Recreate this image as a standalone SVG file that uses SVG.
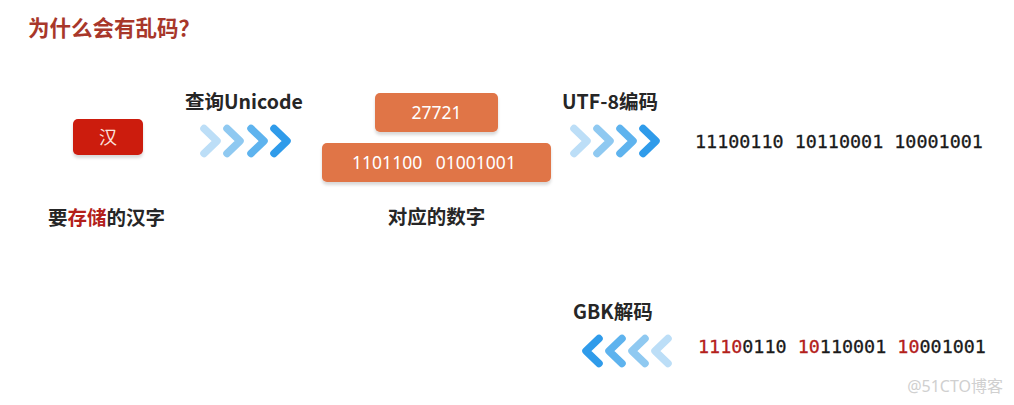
<svg xmlns="http://www.w3.org/2000/svg" width="1014" height="405" viewBox="0 0 1014 405">
<style>
.cjk{font-family:"Noto Sans CJK SC","Noto Sans",sans-serif;font-weight:700;fill:#262626}
.lbl{font-size:19.5px}
.title{font-size:21.5px;fill:#A8372A}
.mono{font-family:"DejaVu Sans Mono","Liberation Mono",monospace;font-size:18.4px;fill:#1a1a1a;stroke:#1a1a1a;stroke-width:0.3}
.red{fill:#B3201A;stroke:#B3201A}
.box{fill:#E07447}
.boxtxt{font-family:"Noto Sans","Liberation Sans",sans-serif;font-size:17.5px;fill:#fff}
.chev{fill:none;stroke-width:7.5;stroke-linecap:round;stroke-linejoin:round}
.c1{stroke:#BCDEF7}.c2{stroke:#8FC9F1}.c3{stroke:#5EB3EE}.c4{stroke:#2F9BEA}
</style>
<defs>
<path id="chr" d="M0,-12.5 L13,0 L0,12.5"/>
<path id="chl" d="M13,-12.5 L0,0 L13,12.5"/>
<filter id="sh" x="-10%" y="-10%" width="120%" height="140%"><feDropShadow dx="0" dy="3" stdDeviation="1.5" flood-color="#000" flood-opacity="0.15"/></filter>
</defs>
<rect width="1014" height="405" fill="#fff"/>
<text class="cjk title" x="28" y="36">为什么会有乱码？</text>

<g id="node-han">
<rect x="73" y="119" width="70" height="36" rx="5" fill="#CC1A0E" filter="url(#sh)"/>
<text x="108" y="143.5" text-anchor="middle" style="font-family:'Noto Sans CJK SC',sans-serif;font-size:18px;fill:#FBE3DF">汉</text>
<text class="cjk lbl" x="48" y="225">要<tspan class="red" style="stroke:none">存储</tspan>的汉字</text>
</g>

<g id="node-number">
<rect class="box" x="375" y="93" width="123" height="39" rx="5" filter="url(#sh)"/>
<text class="boxtxt" x="436.5" y="119" text-anchor="middle">27721</text>
<rect class="box" x="322" y="143" width="229" height="39" rx="5" filter="url(#sh)"/>
<text class="boxtxt" x="434" y="169" text-anchor="middle" xml:space="preserve">1101100   01001001</text>
<text class="cjk lbl" x="436.5" y="224" text-anchor="middle">对应的数字</text>
</g>

<g id="node-utf8">
<text class="mono" x="695" y="148">11100110 10110001 10001001</text>
</g>

<g id="node-gbk">
<text class="mono" x="698" y="353"><tspan class="red">1110</tspan>0110 <tspan class="red">10</tspan>110001 <tspan class="red">10</tspan>001001</text>
</g>

<g id="connectors">
<g id="conn-unicode">
<text class="cjk lbl" x="185" y="109">查询Unicode</text>
<use href="#chr" class="chev c1" x="204" y="141"/>
<use href="#chr" class="chev c2" x="227" y="141"/>
<use href="#chr" class="chev c3" x="251" y="141"/>
<use href="#chr" class="chev c4" x="274" y="141"/>
</g>
<g id="conn-utf8">
<text class="cjk lbl" x="562" y="109">UTF-8编码</text>
<use href="#chr" class="chev c1" x="574" y="141"/>
<use href="#chr" class="chev c2" x="597" y="141"/>
<use href="#chr" class="chev c3" x="620" y="141"/>
<use href="#chr" class="chev c4" x="643" y="141"/>
</g>
<g id="conn-gbk">
<text class="cjk lbl" x="573" y="319">GBK解码</text>
<use href="#chl" class="chev c4" x="586" y="351"/>
<use href="#chl" class="chev c3" x="609" y="351"/>
<use href="#chl" class="chev c2" x="632" y="351"/>
<use href="#chl" class="chev c1" x="655" y="351"/>
</g>
</g>
<text x="1003" y="392" text-anchor="end" style="font-family:'Noto Sans','Noto Sans CJK SC',sans-serif;font-size:16px;fill:#D0D0D0">@51CTO博客</text>
</svg>
